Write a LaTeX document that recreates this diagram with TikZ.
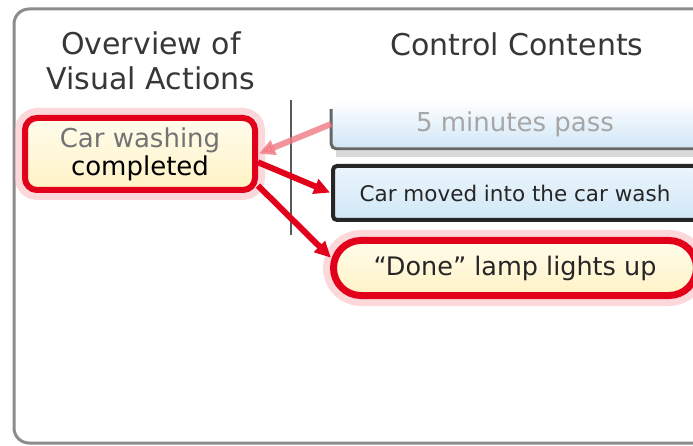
\documentclass[tikz,border=0pt]{standalone}
\usepackage{fontspec}
\setmainfont{DejaVu Sans}
\usepackage{tikz}
\usetikzlibrary{arrows.meta}
\usetikzlibrary{calc}
\usetikzlibrary{shapes}

\definecolor{lampred}{RGB}{226,0,26}
\definecolor{glowpink}{RGB}{250,190,195}
\definecolor{fadedpink}{RGB}{240,120,130}
\definecolor{cream}{RGB}{255,242,196}
\definecolor{creamtop}{RGB}{255,252,236}
\definecolor{boxblue}{RGB}{208,231,247}
\definecolor{boxbluetop}{RGB}{236,245,252}
\definecolor{headgray}{RGB}{55,55,55}
\definecolor{framegray}{RGB}{140,140,140}

\begin{document}
\begin{tikzpicture}[x=1pt, y=-1pt, shorten >=1pt, auto, ultra thick,
        head_style/.style={align=center,text=headgray,font=\fontsize{30}{35}\selectfont},
        wash_node_style/.style={rectangle,rounded corners=12pt,draw=lampred,line width=6pt,top color=creamtop,bottom color=cream,minimum width=230pt,minimum height=72pt,inner sep=0pt,align=center,font=\fontsize{26}{28}\selectfont,preaction={draw=glowpink,line width=20pt,opacity=0.6}},
        pass_node_style/.style={rectangle,top color=white,bottom color=boxblue,minimum width=366pt,minimum height=48pt,inner sep=0pt,text=black!35,font=\fontsize{26}{28}\selectfont},
        car_node_style/.style={rectangle,rounded corners=4pt,draw=black!85,line width=4pt,top color=boxbluetop,bottom color=boxblue,minimum width=364pt,minimum height=54pt,inner sep=0pt,text=black!85,font=\fontsize{21.5}{24}\selectfont},
        done_node_style/.style={rounded rectangle,draw=lampred,line width=7pt,top color=creamtop,bottom color=cream,minimum width=363pt,minimum height=55pt,inner sep=0pt,text=black!85,font=\fontsize{25.5}{28}\selectfont,preaction={draw=glowpink,line width=21pt,opacity=0.6}},
        frame_style/.style={draw=framegray,line width=3pt,rounded corners=15pt},
        divider_style/.style={draw=black!65,line width=1.2pt},
        pass_rim_style/.style={draw=black!60,line width=3pt,rounded corners=5pt},
        edge_style/.style={draw=lampred,line width=6pt,-{Triangle[length=16pt,width=15pt]}},
        faded_edge_style/.style={draw=fadedpink,line width=6pt,opacity=0.8,-{Triangle[length=16pt,width=15pt]}}]

        \useasboundingbox (0,0) rectangle (693,446);

        \fill [white] (0,0) rectangle (693,446);

        \clip (0,0) rectangle (693,446);

        \draw [frame_style] (14,9) rectangle (740,443);

        \node [head_style](visual_head) at (151,61) {Overview of\\Visual Actions};

        \node [head_style](control_head) at (517,44) {Control Contents};

        \draw [divider_style] (291,100) -- (291,236);

        \draw [draw=black!15,line width=6pt] (336,154) -- (700,154);

        \node [pass_node_style](pass) at (515,124) {5 minutes pass};

        \draw [pass_rim_style] ([yshift=-10pt]pass.north west) |- (pass.south east);

        \node [car_node_style](car) at (515,193) {Car moved into the car wash};

        \node [done_node_style](done) at (515,268) {“Done” lamp lights up};

        \node [wash_node_style](wash) at (140,154) {\textcolor{black!55}{Car washing}\\completed};

        \draw [faded_edge_style] (pass.west) -- (wash.east);

        \draw [edge_style] (wash.-4) -- (car.west);

        \draw [edge_style] (wash.-15) -- (done.177);

        \end{tikzpicture}
\end{document}
